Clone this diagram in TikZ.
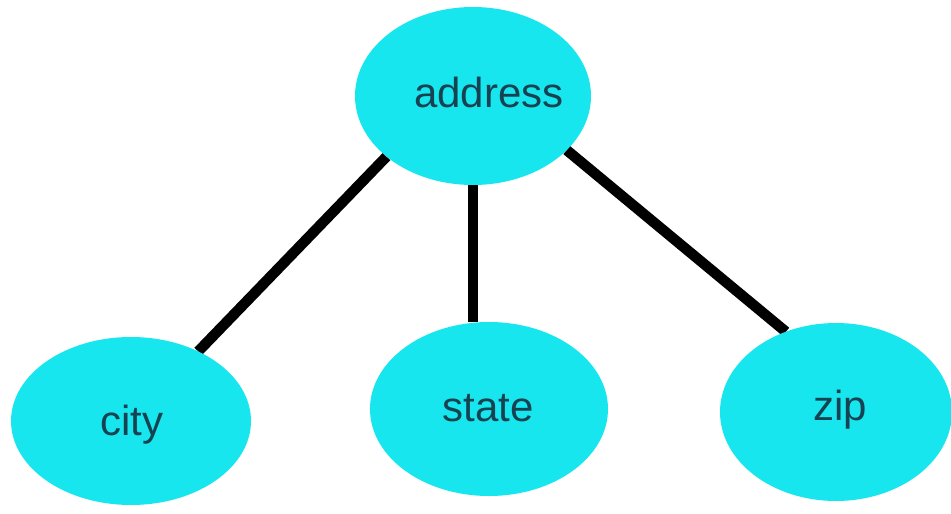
\documentclass[tikz,border=0pt]{standalone}
\usepackage{fontspec}
\setmainfont{Liberation Sans}
\usetikzlibrary{shapes.geometric,backgrounds}
\definecolor{bubblecyan}{RGB}{24,230,238}
\definecolor{labelink}{RGB}{22,66,82}
\begin{document}
\begin{tikzpicture}[x=1pt,y=-1pt,
  bubble/.style={ellipse, fill=bubblecyan, inner sep=0pt, outer sep=0pt},
  word/.style={anchor=base, text=labelink, font=\fontsize{42}{50}\selectfont, inner sep=0pt},
  link/.style={line width=10.5pt, black, line cap=butt}]
\useasboundingbox (0,0) rectangle (951,514);

% ellipses
\node[bubble, minimum width=236pt, minimum height=178pt] (address) at (473,96) {};
\node[bubble, minimum width=240pt, minimum height=168pt] (city) at (131,421) {};
\node[bubble, minimum width=238pt, minimum height=174pt] (state) at (489,409) {};
\node[bubble, minimum width=232pt, minimum height=178pt] (zip) at (836,412) {};

% labels
\node[word] (addresstext) at (489,107) {address};
\node[word] (citytext) at (132,435) {city};
\node[word] (statetext) at (488,421) {state};
\node[word] (ziptext) at (840,420) {zip};

% connectors, behind the ellipses
\begin{pgfonlayer}{background}
  \draw[link] (address.215) -- (city.46);
  \draw[link] (address.south) -- (address.south |- state.north);
  \draw[link] (address.330) -- (zip.122);
\end{pgfonlayer}
\end{tikzpicture}
\end{document}
